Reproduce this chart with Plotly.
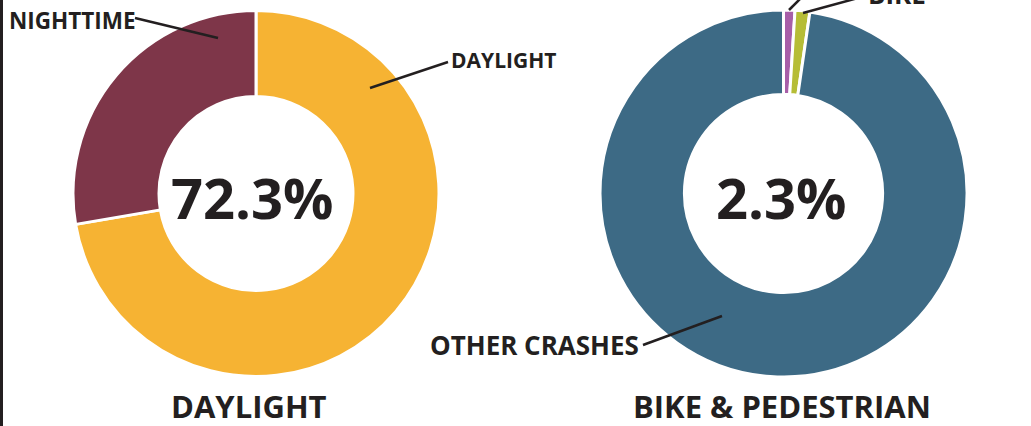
import plotly.graph_objects as go

W, H = 1031, 426

# ---- data ----
light_labels = ["DAYLIGHT", "NIGHTTIME"]
light_values = [72.3, 27.7]
light_colors = ["#F6B333", "#7E3649"]

mode_labels = ["PEDESTRIAN", "BIKE", "OTHER CRASHES"]
mode_values = [1.0, 1.3, 97.7]
mode_colors = ["#A75EA8", "#B6BD36", "#3D6A85"]

center_texts = ["72.3%", "2.3%"]
titles = ["DAYLIGHT", "BIKE & PEDESTRIAN"]

FONT = "Open Sans"
INK = "#231F20"


def px(x):
    return x / W


def py(y):
    return 1 - y / H


fig = go.Figure()

fig.add_trace(go.Pie(
    labels=light_labels, values=light_values, sort=False, direction="clockwise",
    rotation=0, hole=0.53, textinfo="none", hoverinfo="label+percent",
    marker=dict(colors=light_colors, line=dict(color="white", width=3)),
    domain=dict(x=[px(73), px(439)], y=[py(377), py(10)]),
    showlegend=False,
))
fig.add_trace(go.Pie(
    labels=mode_labels, values=mode_values, sort=False, direction="clockwise",
    rotation=0, hole=0.54, textinfo="none", hoverinfo="label+percent",
    marker=dict(colors=mode_colors, line=dict(color="white", width=3)),
    domain=dict(x=[px(600), px(967)], y=[py(377), py(10)]),
    showlegend=False,
))

annotations = []
# center percentages
for t, cx in zip(center_texts, [252, 781]):
    annotations.append(dict(text=f"<b>{t}</b>", x=px(cx), y=py(197), xref="paper", yref="paper",
                            showarrow=False, xanchor="center", yanchor="middle",
                            font=dict(family=FONT, size=56, color=INK)))
# bottom titles
for t, cx in zip(titles, [249, 782]):
    annotations.append(dict(text=f"<b>{t}</b>", x=px(cx), y=py(406), xref="paper", yref="paper",
                            showarrow=False, xanchor="center", yanchor="middle",
                            font=dict(family=FONT, size=31, color=INK)))

# slice labels
annotations += [
    dict(text="<b>NIGHTTIME</b>", x=px(7), y=py(20), xref="paper", yref="paper", showarrow=False,
         xanchor="left", yanchor="middle", font=dict(family=FONT, size=22.5, color=INK)),
    dict(text="<b>DAYLIGHT</b>", x=px(449), y=py(60), xref="paper", yref="paper", showarrow=False,
         xanchor="left", yanchor="middle", font=dict(family=FONT, size=21, color=INK)),
    dict(text="<b>OTHER CRASHES</b>", x=px(641), y=py(345), xref="paper", yref="paper", showarrow=False,
         xanchor="right", yanchor="middle", font=dict(family=FONT, size=26, color=INK)),
    dict(text="<b>BIKE</b>", x=px(866), y=py(-6), xref="paper", yref="paper", showarrow=False,
         xanchor="left", yanchor="middle", font=dict(family=FONT, size=26, color=INK)),
]

shapes = [
    # left dark border
    dict(type="rect", xref="paper", yref="paper", x0=0, x1=px(3), y0=0, y1=1,
         fillcolor=INK, line=dict(width=0)),
]
leaders = [
    ((135, 18), (218, 38)),
    ((448, 62), (370, 88)),
    ((643, 345), (722, 316)),
    ((789, 10), (801, -2)),
    ((803, 13), (858, -2)),
]
for (x0, y0), (x1, y1) in leaders:
    shapes.append(dict(type="line", xref="paper", yref="paper", x0=px(x0), y0=py(y0),
                       x1=px(x1), y1=py(y1), line=dict(color=INK, width=2.5)))

fig.update_layout(
    width=W, height=H, margin=dict(l=0, r=0, t=0, b=0),
    paper_bgcolor="white", plot_bgcolor="white",
    annotations=annotations, shapes=shapes,
)

fig.write_html(
    "out.html",
    config={"displayModeBar": False},
    post_script="document.body.style.margin='0';document.body.style.overflow='hidden';",
)
